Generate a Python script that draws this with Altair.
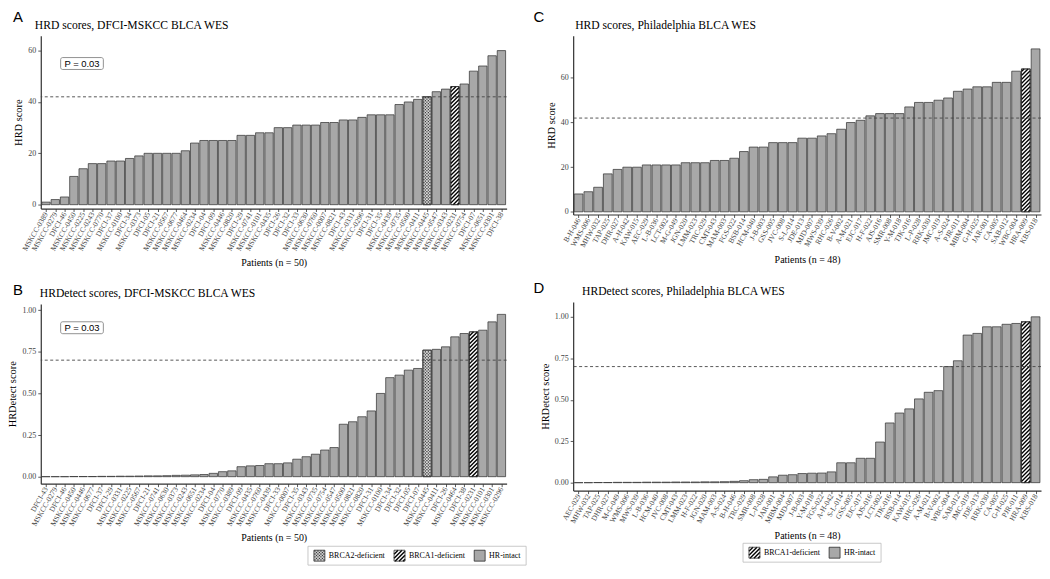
import json
import altair as alt
import pandas as pd

# ---------------- data ----------------
A_ids = ["MSKCC-0389", "MSKCC-0279", "DFCI-46", "MSKCC-0450", "MSKCC-0225", "MSKCC-0243", "MSKCC-0770",
         "DFCI-37", "MSKCC-0100", "DFCI-34", "MSKCC-0373", "DFCI-05", "DFCI-21", "MSKCC-0567", "MSKCC-0677",
         "MSKCC-0464", "MSKCC-0234", "DFCI-04", "DFCI-09", "MSKCC-0446", "MSKCC-0820", "DFCI-29", "MSKCC-0741",
         "MSKCC-0101", "MSKCC-0435", "DFCI-26", "DFCI-32", "DFCI-33", "MSKCC-0630", "MSKCC-0760", "MSKCC-0007",
         "MSKCC-0821", "DFCI-43", "MSKCC-0331", "MSKCC-0296", "DFCI-31", "DFCI-35", "MSKCC-0439", "MSKCC-0735",
         "MSKCC-0500", "MSKCC-0411", "MSKCC-0445", "MSKCC-0547", "MSKCC-0343", "MSKCC-0231", "MSKCC-0754",
         "DFCI-07", "MSKCC-0651", "MSKCC-0301", "DFCI-38"]
A_vals = [1, 2, 3, 11, 14, 16, 16, 17, 17, 18, 19, 20, 20, 20, 20, 21, 24, 25, 25, 25, 25, 27, 27, 28, 28,
          30, 30, 31, 31, 31, 32, 32, 33, 33, 34, 35, 35, 35, 39, 40, 41, 42, 44, 45, 46, 47, 52, 54, 58, 60]

B_ids = ["DFCI-43", "MSKCC-0279", "DFCI-46", "MSKCC-0450", "MSKCC-0446", "MSKCC-0677", "DFCI-37", "DFCI-29",
         "MSKCC-0331", "MSKCC-0225", "MSKCC-0567", "DFCI-21", "MSKCC-0741", "MSKCC-0630", "MSKCC-0373",
         "MSKCC-0243", "MSKCC-0651", "MSKCC-0234", "DFCI-04", "MSKCC-0770", "MSKCC-0389", "DFCI-09",
         "MSKCC-0435", "MSKCC-0760", "MSKCC-0439", "DFCI-33", "MSKCC-0007", "DFCI-35", "MSKCC-0343",
         "MSKCC-0735", "MSKCC-0754", "MSKCC-0547", "MSKCC-0500", "MSKCC-0821", "MSKCC-0820", "DFCI-31",
         "MSKCC-0100", "DFCI-34", "DFCI-32", "DFCI-05", "DFCI-07", "MSKCC-0445", "MSKCC-0411", "DFCI-26",
         "MSKCC-0464", "DFCI-38", "MSKCC-0231", "MSKCC-0101", "MSKCC-0301", "MSKCC-0296"]
B_vals = [0.000, 0.000, 0.000, 0.001, 0.001, 0.001, 0.002, 0.002, 0.003, 0.003, 0.004, 0.005, 0.005, 0.006,
          0.008, 0.009, 0.011, 0.013, 0.020, 0.030, 0.035, 0.060, 0.065, 0.067, 0.078, 0.078, 0.083, 0.105,
          0.120, 0.135, 0.160, 0.175, 0.315, 0.330, 0.360, 0.395, 0.500, 0.595, 0.610, 0.640, 0.650, 0.760,
          0.765, 0.780, 0.840, 0.860, 0.870, 0.880, 0.930, 0.975]

C_ids = ["B-H-046", "WMS-006", "MHW-032", "TAP-025", "DHR-027", "A-H-042", "KAW-015", "AEC-029", "L-B-036",
         "LCT-002", "M-G-049", "JGN-020", "LMM-023", "TRC-029", "CMT-043", "MAM-003", "FGS-022", "BSB-014",
         "HCM-040", "J-B-003", "GSS-005", "JVC-008", "S-L-014", "JDE-013", "MJD-007", "MWS-039", "RHC-026",
         "B-V-002", "A-M-021", "EJC-017", "H-F-022", "AJS-016", "SMR-008", "Y-M-018", "TJK-016", "L-P-028",
         "RRK-030", "JMC-019", "A-S-024", "PJR-011", "MBM-004", "G-H-025", "JAR-001", "CA-005", "SAB-012",
         "WBC-004", "HRA-009", "KBS-018"]
C_vals = [8, 9, 11, 17, 19, 20, 20, 21, 21, 21, 21, 22, 22, 22, 23, 23, 24, 27, 29, 29, 31, 31, 31, 33, 33,
          34, 35, 37, 40, 41, 43, 44, 44, 44, 47, 49, 49, 50, 51, 54, 55, 56, 56, 58, 58, 63, 64, 73]

D_ids = ["AEC-029", "MHW-032", "TAP-025", "DHR-027", "M-G-049", "WMS-006", "MWS-039", "L-B-036", "HCM-040",
         "JVC-008", "CMT-043", "LMM-023", "H-F-022", "JGN-020", "MAM-003", "A-S-024", "B-H-046", "TRC-029",
         "SMR-008", "L-P-028", "JAR-001", "MBM-004", "MJD-007", "J-B-003", "Y-M-018", "FGS-022", "A-H-042",
         "S-L-014", "GSS-005", "EJC-017", "AJS-016", "LCT-002", "TJK-016", "BSB-014", "KAW-015", "RHC-026",
         "A-M-021", "B-V-002", "WBC-004", "SAB-012", "JMC-019", "JDE-013", "RRK-030", "CA-005", "G-H-025",
         "PJR-011", "HRA-009", "KBS-018"]
D_vals = [0.000, 0.000, 0.001, 0.001, 0.002, 0.002, 0.002, 0.003, 0.003, 0.003, 0.004, 0.004, 0.004, 0.005,
          0.005, 0.006, 0.008, 0.012, 0.018, 0.020, 0.035, 0.045, 0.048, 0.055, 0.057, 0.058, 0.065, 0.120,
          0.120, 0.147, 0.147, 0.245, 0.360, 0.420, 0.445, 0.505, 0.545, 0.555, 0.700, 0.735, 0.890, 0.900,
          0.940, 0.940, 0.955, 0.960, 0.970, 1.000]

DFCI_BRCA1 = ["MSKCC-0231"]
DFCI_BRCA2 = ["MSKCC-0445"]
PHILA_BRCA1 = ["HRA-009"]
PHILA_BRCA2 = []

HRD_CUTOFF = 42
HRDETECT_CUTOFF = 0.7
P_TEXT = "P = 0.03"

# ---------------- style ----------------
SERIF = "Liberation Serif"
SANS = "Liberation Sans"
BAR_FILL = "#a8a8a8"
BRCA2_FILL = "#d6d6d6"
BRCA1_FILL = "#ffffff"
EDGE = "#2b2b2b"
AXC = "#303030"
LABC = "#444444"
HSTEP = 4.0
DSTEP = 3.0


def hatch_px(bw, bh, step):
    out = []
    c = -bw + step * 0.5
    while c < bh:
        u0 = max(0.0, -c)
        u1 = min(bw, bh - c)
        if u1 - u0 > 0.3:
            out.append((u0, u0 + c, u1, u1 + c))
        c += step
    return out


def dots_px(bw, bh, step):
    out = []
    r = 0
    w = step * 0.4
    while w < bh - 0.6:
        u = step * 0.35 + (step * 0.5 if r % 2 else 0.0)
        while u < bw - 0.6:
            out.append((u, w))
            u += step
        w += step * 0.5
        r += 1
    return out


def text_w(s, size):
    tot = 0.0
    for ch in s:
        if ch.isupper():
            tot += 0.68
        elif ch.isdigit():
            tot += 0.5
        elif ch in "-":
            tot += 0.33
        elif ch in "iltf":
            tot += 0.29
        else:
            tot += 0.45
    return tot * size


def x_axis(ids, title):
    return alt.Axis(values=list(range(len(ids))), labelExpr=json.dumps(ids) + "[round(datum.value)]",
                    labelAngle=-60, labelAlign="right", labelBaseline="middle", labelFont=SERIF,
                    labelFontSize=7.5, labelColor=LABC, labelPadding=1, labelOverlap=False, labelFlush=False,
                    labelBound=False, tickSize=3, tickColor=AXC, tickWidth=0.8, domainColor=AXC,
                    domainWidth=1.2, grid=False, title=title, titleFont=SERIF, titleFontSize=10,
                    titleFontWeight="normal", titleColor="black", titlePadding=6)


def y_axis(ticks, fmt, title):
    return alt.Axis(values=ticks, format=fmt, labelFont=SERIF, labelFontSize=8, labelColor=LABC,
                    labelFlush=False, labelOverlap=False, labelPadding=2, tickSize=3, tickColor=AXC,
                    tickWidth=0.8, domainColor=AXC, domainWidth=1.2, grid=False, title=title,
                    titleFont=SERIF, titleFontSize=10.5, titleFontWeight="normal", titleColor="black",
                    titlePadding=4)


def panel(ids, vals, brca1, brca2, W, H, ydom, yticks, yfmt, cutoff, title, letter, ytitle, xtitle,
          letter_xy, title_xy, pbox=None):
    n = len(ids)
    hw = 0.45
    xdom = [-0.56, n - 0.44]
    sx = W / (xdom[1] - xdom[0])
    sy = H / (ydom[1] - ydom[0])
    fills = [BRCA1_FILL if s in brca1 else (BRCA2_FILL if s in brca2 else BAR_FILL) for s in ids]
    df = pd.DataFrame({"i": list(range(n)), "id": ids, "v": vals, "fill": fills})
    df["x0"] = df["i"] - hw
    df["x1"] = df["i"] + hw
    df["base"] = 0.0
    xs = alt.Scale(domain=xdom, nice=False, zero=False)
    ys = alt.Scale(domain=ydom, nice=False, zero=False)
    xa = x_axis(ids, xtitle)
    ya = y_axis(yticks, yfmt, ytitle)

    bars = alt.Chart(df).mark_rect(stroke=EDGE, strokeWidth=0.7).encode(
        x=alt.X("x0:Q", scale=xs, axis=xa),
        x2="x1:Q",
        y=alt.Y("v:Q", scale=ys, axis=ya),
        y2="base:Q",
        fill=alt.Fill("fill:N", scale=None),
    )
    layers = [bars]

    hrows, drows = [], []
    for k, s in enumerate(ids):
        if s in brca1:
            for (u0, w0, u1, w1) in hatch_px(2 * hw * sx, vals[k] * sy, HSTEP):
                hrows.append({"x0": k - hw + u0 / sx, "v": w0 / sy, "x1": k - hw + u1 / sx, "v2": w1 / sy})
        if s in brca2:
            for (u, w) in dots_px(2 * hw * sx, vals[k] * sy, DSTEP):
                drows.append({"x0": k - hw + u / sx, "v": w / sy})
    if hrows:
        layers.append(alt.Chart(pd.DataFrame(hrows)).mark_rule(color="black", strokeWidth=1.4,
                                                                strokeCap="butt").encode(
            x=alt.X("x0:Q", scale=xs, axis=xa), x2="x1:Q",
            y=alt.Y("v:Q", scale=ys, axis=ya), y2="v2:Q"))
    if drows:
        layers.append(alt.Chart(pd.DataFrame(drows)).mark_square(size=1.6, color="#3a3a3a", opacity=1).encode(
            x=alt.X("x0:Q", scale=xs, axis=xa), y=alt.Y("v:Q", scale=ys, axis=ya)))
    special = df[df["id"].isin(list(brca1) + list(brca2))]
    if len(special):
        layers.append(alt.Chart(special).mark_rect(filled=False, stroke=EDGE, strokeWidth=0.8).encode(
            x=alt.X("x0:Q", scale=xs, axis=xa), x2="x1:Q",
            y=alt.Y("v:Q", scale=ys, axis=ya), y2="base:Q"))

    layers.append(alt.Chart(pd.DataFrame({"v": [cutoff]})).mark_rule(
        color="#444444", strokeWidth=0.9, strokeDash=[3, 2.5]).encode(y=alt.Y("v:Q", scale=ys, axis=ya)))

    if pbox is not None:
        bx0, by0, bx1, by1 = pbox
        layers.append(alt.Chart(pd.DataFrame({"t": [P_TEXT]})).mark_rect(
            fill="white", stroke="#777777", strokeWidth=0.8, cornerRadius=2).encode(
            x=alt.value(bx0), x2=alt.value(bx1), y=alt.value(by0), y2=alt.value(by1)))
        layers.append(alt.Chart(pd.DataFrame({"t": [P_TEXT]})).mark_text(
            font=SANS, fontSize=9.5, align="center", baseline="middle", color="black").encode(
            text="t:N", x=alt.value((bx0 + bx1) / 2), y=alt.value((by0 + by1) / 2 + 0.5)))

    layers.append(alt.Chart(pd.DataFrame({"t": [letter]})).mark_text(
        font=SANS, fontSize=15, align="left", baseline="alphabetic", color="black").encode(
        text="t:N", x=alt.value(letter_xy[0]), y=alt.value(letter_xy[1])))
    layers.append(alt.Chart(pd.DataFrame({"t": [title]})).mark_text(
        font=SERIF, fontSize=11.7, align="left", baseline="alphabetic", color="black").encode(
        text="t:N", x=alt.value(title_xy[0]), y=alt.value(title_xy[1])))

    return alt.layer(*layers).properties(width=W, height=H)


def legend(items, W, x_start, h=19):
    sw = 11
    y0 = (h - sw) / 2.0
    y1 = y0 + sw
    x = x_start + 6
    rects, texts, hat, dts = [], [], [], []
    for label, kind in items:
        fill = {"dots": BRCA2_FILL, "hatch": BRCA1_FILL, "gray": BAR_FILL}[kind]
        rects.append({"x": x, "x2": x + sw, "y": y0, "y2": y1, "fill": fill})
        if kind == "hatch":
            for (u0, w0, u1, w1) in hatch_px(sw, sw, HSTEP):
                hat.append({"x": x + u0, "y": y1 - w0, "x2": x + u1, "y2": y1 - w1})
        if kind == "dots":
            for (u, w) in dots_px(sw, sw, DSTEP):
                dts.append({"x": x + u, "y": y1 - w})
        texts.append({"x": x + sw + 4, "y": h / 2.0 + 0.5, "t": label})
        x += sw + 4 + text_w(label, 8) + 10
    box = pd.DataFrame([{"x": x_start, "x2": x - 10 + 6, "y": 0, "y2": h}])
    rdf = pd.DataFrame(rects)
    enc_rect = dict(x=alt.X("x:Q", scale=None, axis=None), x2="x2:Q",
                    y=alt.Y("y:Q", scale=None, axis=None), y2="y2:Q")
    layers = [
        alt.Chart(box).mark_rect(fill="white", stroke="#bbbbbb", strokeWidth=0.8).encode(**enc_rect),
        alt.Chart(rdf).mark_rect(strokeWidth=0).encode(fill=alt.Fill("fill:N", scale=None), **enc_rect),
    ]
    if hat:
        layers.append(alt.Chart(pd.DataFrame(hat)).mark_rule(color="black", strokeWidth=1.4,
                                                             strokeCap="butt").encode(**enc_rect))
    if dts:
        layers.append(alt.Chart(pd.DataFrame(dts)).mark_square(size=1.6, color="#3a3a3a", opacity=1).encode(
            x=alt.X("x:Q", scale=None, axis=None), y=alt.Y("y:Q", scale=None, axis=None)))
    layers.append(alt.Chart(rdf).mark_rect(filled=False, stroke=EDGE, strokeWidth=0.8).encode(**enc_rect))
    layers.append(alt.Chart(pd.DataFrame(texts)).mark_text(
        font=SERIF, fontSize=8, align="left", baseline="middle", color="black").encode(
        text="t:N", x=alt.X("x:Q", scale=None, axis=None), y=alt.Y("y:Q", scale=None, axis=None)))
    return alt.layer(*layers).properties(width=W, height=h)


WL, WR = 469, 471
pA = panel(A_ids, A_vals, DFCI_BRCA1, DFCI_BRCA2, WL, 174, [-1.5, 65.8], [0, 20, 40, 60], "d",
           HRD_CUTOFF, "HRD scores, DFCI-MSKCC BLCA WES", "A", "HRD score", "Patients (n = 50)",
           (-28, -14), (-6, -7), pbox=(20, 22, 63, 34))
pB = panel(B_ids, B_vals, DFCI_BRCA1, DFCI_BRCA2, WL, 181, [-0.042, 1.038], [0, 0.25, 0.5, 0.75, 1.0], ".2f",
           HRDETECT_CUTOFF, "HRDetect scores, DFCI-MSKCC BLCA WES", "B", "HRDetect score", "Patients (n = 50)",
           (-28, -9), (-1, -7), pbox=(20, 18, 63, 30))
pC = panel(C_ids, C_vals, PHILA_BRCA1, PHILA_BRCA2, WR, 180, [-1.2, 78.9], [0, 20, 40, 60], "d",
           HRD_CUTOFF, "HRD scores, Philadelphia BLCA WES", "C", "HRD score", "Patients (n = 48)",
           (-40, -14), (2, -7))
pD = panel(D_ids, D_vals, PHILA_BRCA1, PHILA_BRCA2, WR, 190, [-0.048, 1.09], [0, 0.25, 0.5, 0.75, 1.0], ".2f",
           HRDETECT_CUTOFF, "HRDetect scores, Philadelphia BLCA WES", "D", "HRDetect score", "Patients (n = 48)",
           (-40, -9), (9, -7))

legL = legend([("BRCA2-deficient", "dots"), ("BRCA1-deficient", "hatch"), ("HR-intact", "gray")], WL, 269)
legR = legend([("BRCA1-deficient", "hatch"), ("HR-intact", "gray")], WR, 171)

left = alt.vconcat(alt.vconcat(pA, pB, spacing=15), legL, spacing=2)
right = alt.vconcat(alt.vconcat(pC, pD, spacing=17), legR, spacing=2)

chart = alt.hconcat(left, right, spacing=6).properties(padding=0).configure_view(stroke=None)

chart.save("out.html", embed_options={"renderer": "svg", "actions": False})
